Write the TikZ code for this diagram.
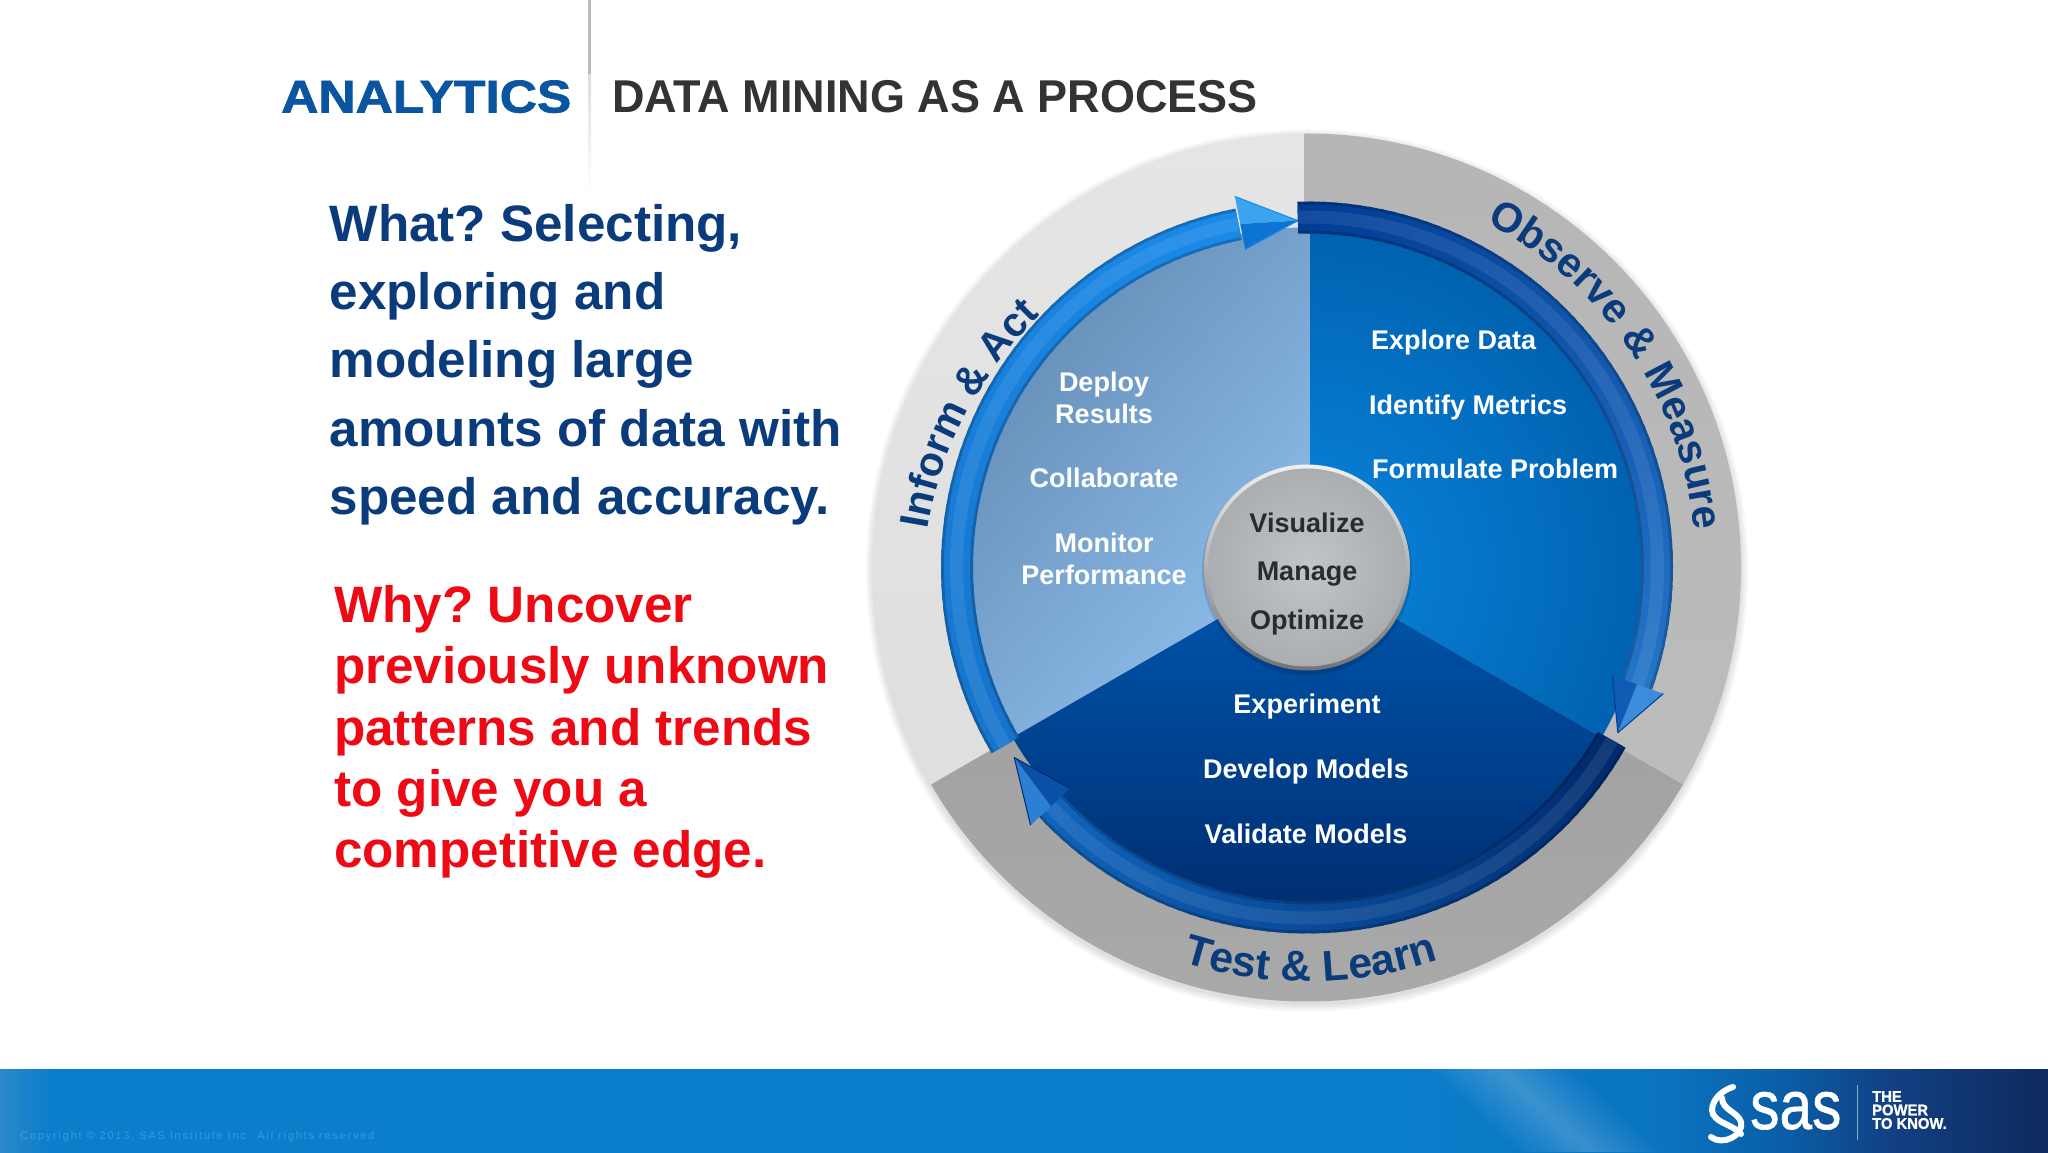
\documentclass[tikz,border=0pt]{standalone}
\usepackage{fontspec}
\setmainfont{Liberation Sans}
\usetikzlibrary{decorations.text}
\definecolor{navytxt}{HTML}{0A3C7C}
\definecolor{redtxt}{HTML}{EE0A14}
\definecolor{hubtxt}{HTML}{262C32}
\definecolor{titleblue}{HTML}{0A55A0}
\definecolor{titlegray}{HTML}{333333}
\definecolor{footA}{HTML}{2C88CA}
\definecolor{footB}{HTML}{0B7ECB}
\definecolor{footC}{HTML}{0A74C0}
\definecolor{footD}{HTML}{0A5EA8}
\definecolor{footE}{HTML}{123E80}
\definecolor{footF}{HTML}{0E2A5E}
\definecolor{HubR}{HTML}{0A86DE}
\definecolor{HubRo}{HTML}{0062B0}
\definecolor{LeftD}{HTML}{648DB6}
\definecolor{LeftL}{HTML}{96C6F4}
\definecolor{BotT}{HTML}{0058B0}
\definecolor{BotB}{HTML}{002E72}
\definecolor{BandCa}{HTML}{1674CC}
\definecolor{BandCb}{HTML}{1A8AE8}
\definecolor{HeadCa}{HTML}{3AA4F0}
\definecolor{HeadCb}{HTML}{0C74D4}
\definecolor{BandAa}{HTML}{003C94}
\definecolor{BandAb}{HTML}{2474C8}
\definecolor{HeadAa}{HTML}{3C8CDC}
\definecolor{HeadAb}{HTML}{0E5CB4}
\definecolor{BandBa}{HTML}{002A6C}
\definecolor{BandBb}{HTML}{1064BC}
\definecolor{HeadBa}{HTML}{2C80D4}
\definecolor{HeadBb}{HTML}{0850A8}
\definecolor{HubIn}{HTML}{C2C4C6}
\definecolor{HubOut}{HTML}{ABAEB1}
\pgfdeclarehorizontalshading{footerbg}{100bp}{
 color(0bp)=(footA); color(25bp)=(footA); color(26.2bp)=(footB); color(59.2bp)=(footB);
 color(65.5bp)=(footC); color(68.5bp)=(footD); color(71.4bp)=(footE); color(75bp)=(footF); color(100bp)=(footF)}
% layer: start, end, colour A, colour B, inner radius, outer radius, tint expression
\newcommand\tubelayer[7]{%
 \foreach \i in {0,...,59}{%
  \pgfmathsetmacro\aS{#1+(#2-#1)*\i/60}%
  \pgfmathsetmacro\aE{#1+(#2-#1)*(\i+1.4)/60}%
  \pgfmathsetmacro\mixp{100*\i/59}%
  \colorlet{cc}{#4!\mixp!#3}%
  \fill[#7] (\aS:#5) arc[start angle=\aS,end angle=\aE,radius=#5] -- (\aE:#6) arc[start angle=\aE,end angle=\aS,radius=#6] -- cycle;
 }}
\newcommand\tubearc[4]{%
 \tubelayer{#1}{#2}{#3}{#4}{334}{366}{cc!80!black}%
 \tubelayer{#1}{#2}{#3}{#4}{337}{363}{cc}%
 \tubelayer{#1}{#2}{#3}{#4}{344}{357}{cc!92!white}%
}
\newcommand\headarrow[6]{% wing angle, tip angle, tip radius, outer colour, inner colour, edge
 \fill[#4] (#1:378) -- (#2:#3) -- (#1:350) -- cycle;
 \fill[#5] (#1:350) -- (#2:#3) -- (#1:324) -- cycle;
 \draw[#6,line width=1pt,line join=round] (#1:378) -- (#2:#3) -- (#1:324);
}
\newcommand\ringfontA{\fontsize{41.5}{42}\selectfont\bfseries}
\newcommand\ringfontB{\fontsize{43}{44}\selectfont\bfseries}
\newcommand\ringfontC{\fontsize{41}{42}\selectfont\bfseries}
\tikzset{
 wheeltxt/.style={font=\fontsize{27}{32}\selectfont\bfseries,text=white,align=center,inner sep=0pt,anchor=base},
 hubword/.style={font=\fontsize{27}{32}\selectfont\bfseries,text=hubtxt,inner sep=0pt,anchor=base},
 bigtxt/.style={font=\fontsize{51.2}{68.3}\selectfont\bfseries\frenchspacing,text=navytxt,align=left,inner sep=0pt,anchor=north west},
 redblock/.style={font=\fontsize{51.2}{61.4}\selectfont\bfseries\frenchspacing,text=redtxt,align=left,inner sep=0pt,anchor=north west},
 ringtext/.style={decorate,decoration={text along path,text align=center,text color=navytxt,text={#1}}}
}
\begin{document}
\begin{tikzpicture}[x=1pt,y=1pt]
\useasboundingbox (0,0) rectangle (2048,1152);
\fill[white] (0,0) rectangle (2048,1152);
% vertical rule
\fill[black!27] (588,1077) rectangle (591,1152);
\shade[top color=black!13,bottom color=white] (588,957) rectangle (591,1077);
% titles
\node[font=\fontsize{46}{50}\selectfont\bfseries\addfontfeature{FakeBold=1.5},text=titleblue,inner sep=0pt,anchor=base west,xscale=1.12] (analytics) at (281,1039.5) {ANALYTICS};
\node[font=\fontsize{46}{50}\selectfont\bfseries,text=titlegray,inner sep=0pt,anchor=base west,xscale=.978] (title) at (612,1039) {DATA MINING AS A PROCESS};
% left text
\node[bigtxt] (what) at (329.5,948) {What? Selecting,\\exploring and\\modeling large\\amounts of data with\\speed and accuracy.};
\node[redblock] (why) at (334,567) {Why? Uncover\\previously unknown\\patterns and trends\\to give you a\\competitive edge.};
% footer
\shade[shading=footerbg] (0,0) rectangle (2048,83);
\begin{scope}
 \clip (0,0) rectangle (2048,83);
 \foreach \w in {4,10,...,70}{
  \fill[white,opacity=0.018] (1500-\w,83) -- (1500+\w,83) -- (1590+\w,0) -- (1590-\w,0) -- cycle;
 }
\end{scope}
\node[font=\fontsize{11}{12}\selectfont\addfontfeature{LetterSpace=16.5},text=white,opacity=0.2,inner sep=0pt,anchor=base west] (copy) at (20,13) {Copyright © 2013, SAS Institute Inc. All rights reserved};
% logo
\draw[white,line width=6pt,line cap=round] (1733,1152-1087) .. controls (1716,1152-1092) and (1706,1152-1110) .. (1716,1152-1118) .. controls (1722,1152-1124) and (1734,1152-1126) .. (1741,1152-1134);
\draw[white,line width=6pt,line cap=round] (1711,1152-1137) .. controls (1722,1152-1146) and (1744,1152-1136) .. (1741,1152-1122) .. controls (1738,1152-1112) and (1722,1152-1110) .. (1722,1152-1098);
\node[font=\fontsize{69}{70}\selectfont\addfontfeature{FakeBold=1},text=white,inner sep=0pt,anchor=base west,xscale=.85] (saslogo) at (1750,1152-1129) {sas};
\fill[white,opacity=.55] (1856.5,12) rectangle (1857.5,67);
\node[font=\fontsize{15.4}{13.5}\selectfont\bfseries\addfontfeature{FakeBold=1},text=white,align=left,inner sep=0pt,anchor=north west,xscale=.96] (power) at (1872,1152-1091) {THE\\POWER\\TO KNOW.};
% wheel
\begin{scope}[shift={(1307,584.5)}]
 \foreach \s in {441,439,437,435}{\fill[black,opacity=.03] (0,-3) circle[radius=\s];}
 % outer ring wedges
 \begin{scope}
  \clip (0,0) circle[radius=434];
  \shade[top color=black!10,bottom color=black!13] (-3,0) -- (-3,500) -- (-500,500) -- (210:600) -- cycle;
  \shade[top color=black!29,bottom color=black!26] (-3,0) -- (-3,500) -- (500,500) -- (-30:600) -- (0,0) -- cycle;
  \shade[top color=black!38,bottom color=black!33] (0,0) -- (210:600) -- (-500,-500) -- (500,-500) -- (-30:600) -- cycle;
 \end{scope}
 % inner sectors
 \begin{scope}
  \clip (0,0) circle[radius=340];
  \begin{scope}
   \clip (3,0) -- (3,500) -- (-500,500) -- (210:600) -- (0,0) -- cycle;
   \shade[top color=LeftD,bottom color=LeftL,shading angle=50] (-340,-200) rectangle (60,340);
  \end{scope}
  \begin{scope}
   \clip (3,0) -- (3,500) -- (500,500) -- (-30:600) -- (0,0) -- cycle;
   \shade[inner color=HubR,outer color=HubRo] (0,0) circle[radius=340];
  \end{scope}
  \begin{scope}
   \clip (0,0) -- (210:600) -- (-500,-500) -- (500,-500) -- (-30:600) -- cycle;
   \shade[top color=BotT,bottom color=BotB] (-340,0) rectangle (340,-340);
  \end{scope}
 \end{scope}
 % arrows
 \tubearc{210.5}{102}{BandCa}{BandCb}
 \headarrow{101}{91.5}{347}{HeadCa}{HeadCb}{BandCb}
 \tubearc{91.5}{-19.5}{BandAa}{BandAb}
 \headarrow{-19.5}{-28}{352}{HeadAa}{HeadAb}{BandAa}
 \tubearc{-29.5}{-137}{BandBa}{BandBb}
 \headarrow{-137}{-147}{349}{HeadBa}{HeadBb}{BandBa}
 % hub
 \fill[black,opacity=.12] (0,-3) circle[radius=105];
 \shade[top color=black!6,bottom color=black!55] (0,0) circle[radius=103];
 \shade[inner color=HubIn,outer color=HubOut] (0,0) circle[radius=99];
\end{scope}
% curved labels
\path[ringtext={|\ringfontA|Observe {\&} Measure}] (1307,584.5) ++(63:389) arc[start angle=63,end angle=5,radius=389];
\path[ringtext={|\ringfontB|Test {\&} Learn}] (1307,584.5) ++(250:414) arc[start angle=250,end angle=291,radius=414];
\path[ringtext={|\ringfontC|Inform {\&} Act}] (924.5,597.5) arc[start angle=174.7,end angle=129.7,radius=378];
% sector labels
\node[wheeltxt,anchor=base west] (explore) at (1371,1152-350) {Explore Data};
\node[wheeltxt,anchor=base west] (identify) at (1369,1152-415) {Identify Metrics};
\node[wheeltxt,anchor=base west] (formulate) at (1372,1152-479) {Formulate Problem};
\node[wheeltxt] (deploy) at (1104,1152-392) {Deploy};
\node[wheeltxt] (results) at (1104,1152-424) {Results};
\node[wheeltxt] (collab) at (1104,1152-488) {Collaborate};
\node[wheeltxt] (monitor) at (1104,1152-553) {Monitor};
\node[wheeltxt] (perf) at (1104,1152-585) {Performance};
\node[hubword] (viz) at (1307,1152-533) {Visualize};
\node[hubword] (manage) at (1307,1152-581) {Manage};
\node[hubword] (optimize) at (1307,1152-630) {Optimize};
\node[wheeltxt] (experiment) at (1307,1152-714) {Experiment};
\node[wheeltxt] (develop) at (1306,1152-779) {Develop Models};
\node[wheeltxt] (validate) at (1306,1152-844) {Validate Models};
\end{tikzpicture}
\end{document}
